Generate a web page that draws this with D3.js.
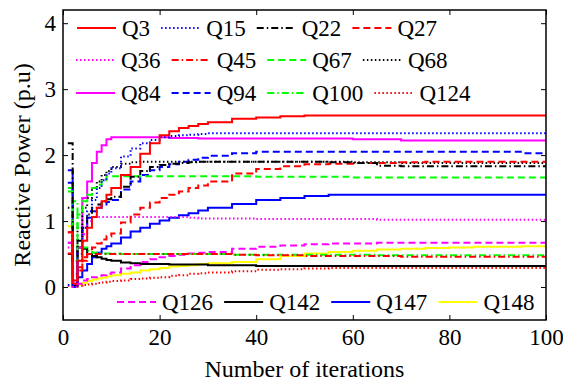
<!DOCTYPE html>
<html>
<head>
<meta charset="utf-8">
<script src="https://cdn.jsdelivr.net/npm/d3@7"></script>
<style>
  body { margin: 0; background: #fff; }
  svg { display: block; }
</style>
</head>
<body>
<svg id="drawing_region"></svg>
<script>
const iterations = [1,2,3,4,5,6,7,8,9,10, 12,14,16,18,20,22,24,26,28,30, 35,40,45,50,55,60,65,70,75,80,85,90,95,100];

const Q3   = [0.83,0.10,0.40,0.70,0.90,1.06,1.20,1.30,1.40,1.50, 1.70,1.82,2.02,2.18,2.30,2.36,2.41,2.44,2.47,2.50, 2.55,2.57,2.59,2.60,2.60,2.60,2.60,2.60,2.60,2.60,2.60,2.60,2.60,2.60];
const Q15  = [0.03,0.00,0.50,0.90,1.15,1.32,1.50,1.62,1.72,1.80, 1.98,2.10,2.18,2.23,2.27,2.29,2.30,2.31,2.32,2.33, 2.33,2.33,2.33,2.33,2.33,2.33,2.33,2.33,2.33,2.33,2.33,2.33,2.33,2.33];
const Q22  = [2.18,0.40,0.70,0.90,1.10,1.20,1.25,1.30,1.33,1.37, 1.52,1.67,1.76,1.82,1.85,1.87,1.88,1.89,1.90,1.90, 1.90,1.90,1.90,1.90,1.89,1.88,1.84,1.83,1.83,1.83,1.83,1.83,1.83,1.83];
const Q27  = [0.51,0.05,0.25,0.40,0.50,0.60,0.66,0.72,0.77,0.81, 0.98,1.10,1.20,1.28,1.35,1.40,1.45,1.50,1.54,1.60, 1.72,1.79,1.83,1.86,1.87,1.88,1.88,1.89,1.90,1.90,1.90,1.90,1.90,1.90];
const Q36  = [0.60,0.00,0.40,0.80,1.00,1.06,1.06,1.06,1.06,1.06, 1.06,1.06,1.06,1.06,1.06,1.06,1.06,1.05,1.04,1.04, 1.04,1.03,1.03,1.03,1.03,1.03,1.02,1.02,1.02,1.02,1.02,1.02,1.02,1.02];
const Q45  = [0.83,0.10,0.30,0.45,0.50,0.50,0.50,0.50,0.50,0.50, 0.50,0.50,0.50,0.50,0.50,0.50,0.50,0.50,0.50,0.50, 0.49,0.48,0.48,0.47,0.47,0.47,0.47,0.46,0.46,0.46,0.46,0.46,0.46,0.46];
const Q67  = [1.45,0.40,1.10,1.30,1.40,1.50,1.55,1.62,1.68,1.68, 1.68,1.68,1.68,1.68,1.68,1.68,1.68,1.68,1.68,1.68, 1.68,1.67,1.67,1.67,1.67,1.66,1.66,1.66,1.66,1.66,1.66,1.66,1.66,1.66];
const Q68  = [1.20,0.30,0.90,1.20,1.35,1.50,1.60,1.70,1.76,1.82, 1.87,1.89,1.90,1.90,1.90,1.90,1.90,1.90,1.90,1.90, 1.90,1.90,1.90,1.90,1.90,1.89,1.89,1.88,1.88,1.88,1.88,1.88,1.88,1.88];
const Q84  = [0.67,0.05,0.60,1.35,1.60,1.88,2.05,2.15,2.24,2.27, 2.27,2.27,2.27,2.27,2.27,2.26,2.26,2.26,2.25,2.25, 2.25,2.25,2.25,2.25,2.25,2.24,2.24,2.22,2.22,2.22,2.22,2.22,2.22,2.22];
const Q94  = [1.58,0.20,0.60,0.90,1.05,1.15,1.20,1.25,1.29,1.32, 1.48,1.60,1.70,1.77,1.82,1.86,1.90,1.93,1.96,1.99, 2.03,2.05,2.05,2.05,2.05,2.05,2.05,2.05,2.05,2.05,2.05,2.05,2.03,2.03];
const Q100 = [1.50,1.30,0.90,0.60,0.55,0.52,0.51,0.51,0.51,0.51, 0.50,0.50,0.50,0.50,0.50,0.50,0.50,0.50,0.50,0.50, 0.49,0.49,0.49,0.49,0.49,0.49,0.48,0.48,0.48,0.48,0.48,0.48,0.48,0.48];
const Q124 = [0.02,0.00,0.02,0.03,0.04,0.05,0.06,0.07,0.08,0.09, 0.10,0.12,0.13,0.14,0.15,0.17,0.18,0.20,0.21,0.22, 0.24,0.26,0.27,0.28,0.29,0.29,0.29,0.29,0.29,0.29,0.29,0.29,0.29,0.29];
const Q126 = [0.67,0.00,0.05,0.10,0.12,0.15,0.17,0.18,0.20,0.22, 0.28,0.33,0.38,0.42,0.45,0.47,0.49,0.51,0.52,0.53, 0.58,0.61,0.63,0.65,0.66,0.66,0.67,0.67,0.67,0.67,0.67,0.67,0.67,0.67];
const Q142 = [0.50,0.02,0.60,0.58,0.50,0.47,0.45,0.43,0.41,0.40, 0.37,0.36,0.35,0.35,0.35,0.34,0.34,0.34,0.34,0.33, 0.33,0.32,0.32,0.32,0.32,0.32,0.32,0.32,0.32,0.32,0.32,0.32,0.32,0.32];
const Q147 = [1.77,0.05,0.15,0.25,0.35,0.45,0.52,0.58,0.62,0.66, 0.75,0.84,0.90,0.96,1.01,1.05,1.09,1.12,1.16,1.20, 1.26,1.32,1.35,1.38,1.40,1.40,1.40,1.40,1.40,1.40,1.40,1.40,1.40,1.40];
const Q148 = [0.92,0.00,0.03,0.06,0.09,0.11,0.13,0.14,0.16,0.18, 0.20,0.22,0.25,0.27,0.29,0.31,0.32,0.33,0.35,0.36, 0.38,0.42,0.47,0.51,0.53,0.55,0.57,0.58,0.59,0.60,0.61,0.61,0.62,0.64];

const xTicks = [0, 20, 40, 60, 80, 100];
const yTicks = [0, 1, 2, 3, 4];

const SOLID = null, DOT = "1.5,2.5", DASH = "7,4", DASHDOT = "7,3,1.5,3";

const series = [
  {name: "Q3",   values: Q3,   color: "#ff0000", dash: SOLID},
  {name: "Q15",  values: Q15,  color: "#0000ff", dash: DOT},
  {name: "Q22",  values: Q22,  color: "#000000", dash: DASHDOT},
  {name: "Q27",  values: Q27,  color: "#ff0000", dash: DASH},
  {name: "Q36",  values: Q36,  color: "#ff00ff", dash: DOT},
  {name: "Q45",  values: Q45,  color: "#ff0000", dash: DASHDOT},
  {name: "Q67",  values: Q67,  color: "#00ff00", dash: DASH},
  {name: "Q68",  values: Q68,  color: "#000000", dash: DOT},
  {name: "Q84",  values: Q84,  color: "#ff00ff", dash: SOLID},
  {name: "Q94",  values: Q94,  color: "#0000ff", dash: DASH},
  {name: "Q100", values: Q100, color: "#00ff00", dash: DASHDOT},
  {name: "Q124", values: Q124, color: "#ff0000", dash: DOT},
  {name: "Q126", values: Q126, color: "#ff00ff", dash: DASH},
  {name: "Q142", values: Q142, color: "#000000", dash: SOLID},
  {name: "Q147", values: Q147, color: "#0000ff", dash: SOLID},
  {name: "Q148", values: Q148, color: "#ffff00", dash: SOLID}
];

const config = {
  width: 563,
  height: 382,
  margin: {top: 10, right: 17, bottom: 62, left: 63}
};
const FONT = "'Liberation Serif', 'Times New Roman', serif";

const svg = d3.select("#drawing_region")
  .attr("width", config.width)
  .attr("height", config.height);

const x0 = config.margin.left, x1 = config.width - config.margin.right;
const y0 = config.height - config.margin.bottom, y1 = config.margin.top;

const xscale = d3.scaleLinear().domain([0, 100]).range([x0, x1]);
const yscale = d3.scaleLinear().domain([-0.5, 4.2]).range([y0, y1]);

svg.append("clipPath").attr("id", "clip")
  .append("rect")
  .attr("x", x0).attr("y", y1)
  .attr("width", x1 - x0).attr("height", y0 - y1);

// lines (stair steps, one value per iteration)
const line = d3.line()
  .x((d, i) => xscale(iterations[i]))
  .y(d => yscale(d))
  .curve(d3.curveStepAfter);

const lines = svg.append("g").attr("clip-path", "url(#clip)");
// draw in reverse so the first legend entries sit on top
lines.selectAll("path")
  .data(series.slice().reverse())
  .join("path")
  .attr("d", d => line(d.values))
  .attr("fill", "none")
  .attr("stroke", d => d.color)
  .attr("stroke-width", 2)
  .attr("stroke-dasharray", d => d.dash);

// axes with inward ticks, MATLAB style
const fontSize = 23;
const xaxis = d3.axisBottom(xscale).tickValues(xTicks).tickFormat(d3.format("d"))
  .tickSizeInner(-5).tickSizeOuter(0).tickPadding(9);
const yaxis = d3.axisLeft(yscale).tickValues(yTicks).tickFormat(d3.format("d"))
  .tickSizeInner(-5).tickSizeOuter(0).tickPadding(7);

svg.append("g").attr("transform", `translate(0, ${y0})`).call(xaxis);
svg.append("g").attr("transform", `translate(${x0}, 0)`).call(yaxis);
svg.append("g").attr("transform", `translate(0, ${y1})`)
  .call(d3.axisTop(xscale).tickValues(xTicks).tickSizeInner(-5).tickSizeOuter(0).tickFormat(""));
svg.append("g").attr("transform", `translate(${x1}, 0)`)
  .call(d3.axisRight(yscale).tickValues(yTicks).tickSizeInner(-5).tickSizeOuter(0).tickFormat(""));

svg.selectAll(".domain").remove();
svg.selectAll(".tick line").attr("stroke", "#000").attr("stroke-width", 1);
svg.selectAll(".tick text")
  .style("font-family", FONT)
  .style("font-size", fontSize + "px")
  .attr("fill", "#000");

svg.append("rect")
  .attr("x", x0).attr("y", y1)
  .attr("width", x1 - x0).attr("height", y0 - y1)
  .attr("fill", "none").attr("stroke", "#000").attr("stroke-width", 1.5);

// axis titles
svg.append("text")
  .attr("x", (x0 + x1) / 2).attr("y", 377)
  .attr("text-anchor", "middle")
  .style("font-family", FONT).style("font-size", "24px")
  .text("Number of iterations");

svg.append("text")
  .attr("transform", `translate(30, ${(y0 + y1) / 2}) rotate(-90)`)
  .attr("text-anchor", "middle")
  .style("font-family", FONT).style("font-size", "24px")
  .text("Reactive Power (p.u)");

// legends: flow layout, line sample then label
function legendRow(items, startX, cy) {
  let cx = startX;
  items.forEach(s => {
    const g = svg.append("g");
    g.append("line")
      .attr("x1", cx).attr("x2", cx + 39)
      .attr("y1", cy).attr("y2", cy)
      .attr("stroke", s.color).attr("stroke-width", 2)
      .attr("stroke-dasharray", s.dash);
    const t = g.append("text")
      .attr("x", cx + 45).attr("y", cy)
      .attr("dy", "0.35em")
      .style("font-family", FONT)
      .style("font-size", fontSize + "px")
      .text(s.name);
    cx += 45 + t.node().getComputedTextLength() + 11;
  });
}

const byName = n => series.find(s => s.name === n);
legendRow(["Q3", "Q15", "Q22", "Q27"].map(byName), 77, 28);
legendRow(["Q36", "Q45", "Q67", "Q68"].map(byName), 76, 60);
legendRow(["Q84", "Q94", "Q100", "Q124"].map(byName), 76, 93);
legendRow(["Q126", "Q142", "Q147", "Q148"].map(byName), 117, 302);
</script>
</body>
</html>
